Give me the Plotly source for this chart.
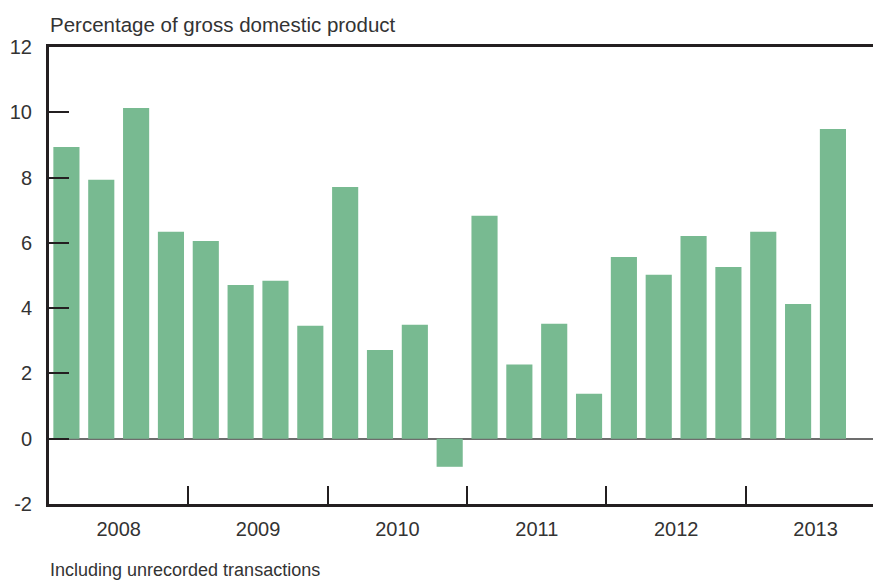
import plotly.graph_objects as go

quarters = ["2008Q1","2008Q2","2008Q3","2008Q4","2009Q1","2009Q2","2009Q3","2009Q4",
            "2010Q1","2010Q2","2010Q3","2010Q4","2011Q1","2011Q2","2011Q3","2011Q4",
            "2012Q1","2012Q2","2012Q3","2012Q4","2013Q1","2013Q2","2013Q3"]
values = [8.94, 7.93, 10.13, 6.34, 6.06, 4.71, 4.84, 3.46,
          7.71, 2.72, 3.49, -0.86, 6.83, 2.27, 3.52, 1.38,
          5.57, 5.02, 6.21, 5.26, 6.34, 4.13, 9.49]
years = ["2008", "2009", "2010", "2011", "2012", "2013"]
y_ticks = [-2, 0, 2, 4, 6, 8, 10, 12]
y_ticktext = ["-2", "0", "2", "4", "6", "8", "10", "12"]

x_idx = list(range(len(quarters)))
year_pos = [i * 4 + 1.5 for i in range(len(years))]
sep_pos = [i * 4 + 3.5 for i in range(len(years) - 1)]

font_family = "Liberation Sans, Arial, sans-serif"
text_col = "#333333"
axis_col = "#231f20"

fig = go.Figure(go.Bar(
    x=x_idx, y=values, marker=dict(color="#78BA91", line=dict(width=0)),
    customdata=quarters, hovertemplate="%{customdata}: %{y}<extra></extra>",
))

fig.update_layout(
    width=873, height=580,
    margin=dict(l=49, r=0, t=47, b=76),
    plot_bgcolor="white", paper_bgcolor="white",
    bargap=0.25, showlegend=False,
    font=dict(family=font_family, color=text_col, size=20),
    xaxis=dict(
        range=[-0.5, 23.15], tickmode="array", tickvals=year_pos, ticktext=years,
        ticks="", showgrid=False, zeroline=False,
        showline=True, linecolor=axis_col, linewidth=3, mirror=True,
        ticklabelstandoff=5, tickfont=dict(size=20, color=text_col),
        minor=dict(tickmode="array", tickvals=sep_pos, ticks="inside",
                   ticklen=18, tickwidth=2, tickcolor=axis_col, showgrid=False),
    ),
    yaxis=dict(
        range=[-2, 12], tickmode="array", tickvals=y_ticks, ticktext=y_ticktext,
        ticks="inside", ticklen=20, tickwidth=2, tickcolor=axis_col,
        showgrid=False, showline=True, linecolor=axis_col, linewidth=3,
        zeroline=True, zerolinecolor="#6d6d6d", zerolinewidth=2,
        ticklabelstandoff=10, tickfont=dict(size=20, color=text_col),
    ),
)

plot_w = 873 - 49
plot_h = 580 - 47 - 76
def px_to_paper(px, py):
    return (px - 49) / plot_w, (504 - py) / plot_h

ax, ay = px_to_paper(48, 24)
bx, by = px_to_paper(48, 570)
fig.add_annotation(text="Percentage of gross domestic product", x=ax, y=ay,
                   xref="paper", yref="paper", showarrow=False,
                   xanchor="left", yanchor="middle",
                   font=dict(size=20.5, color=text_col))
fig.add_annotation(text="Including unrecorded transactions", x=bx, y=by,
                   xref="paper", yref="paper", showarrow=False,
                   xanchor="left", yanchor="middle",
                   font=dict(size=18, color=text_col))

fig.write_html("out.html", config={"displayModeBar": False},
               post_script="document.body.style.margin='0';document.body.style.padding='0';")
